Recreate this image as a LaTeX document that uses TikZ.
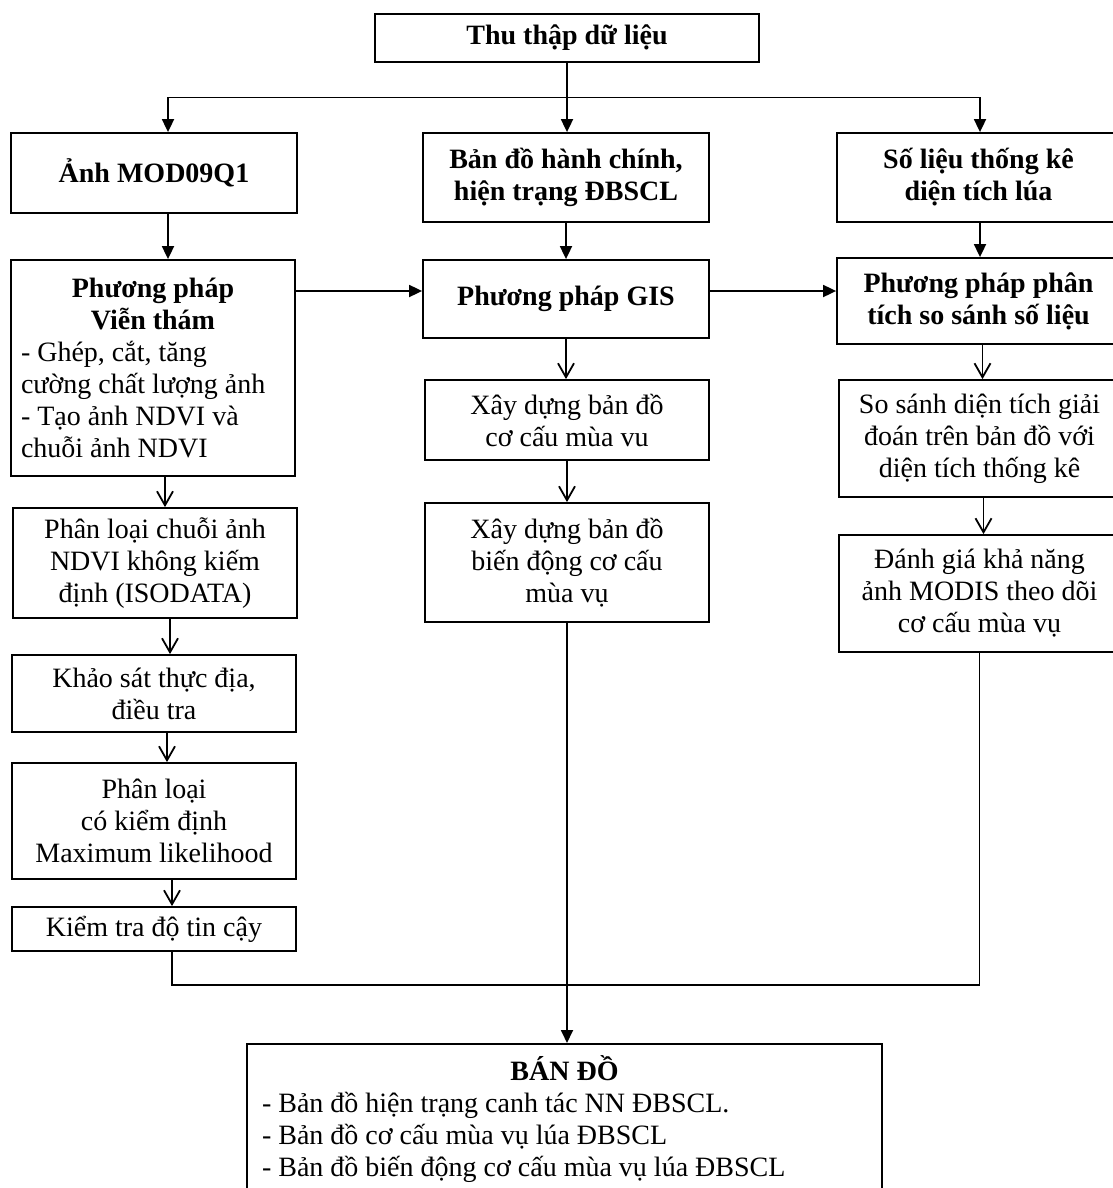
\documentclass[tikz,border=0pt]{standalone}
\usepackage{fontspec}
\setmainfont{Liberation Serif}
\usetikzlibrary{arrows.meta,calc}

\begin{document}
\begin{tikzpicture}[x=1pt,y=-1pt,
  box/.style={draw, line width=1.8pt, align=center, inner sep=0pt,
    font=\fontsize{28}{32}\selectfont},
  hd/.style={box, font=\fontsize{28}{32}\selectfont\bfseries},
  fillarr/.style={line width=1.8pt, -{Triangle[length=13pt,width=12pt]}},
  openarr/.style={line width=1.8pt, -{Straight Barb[length=14pt,width=16pt,line width=1.8pt]}},
  plain/.style={line width=1.8pt}]

\useasboundingbox (0,0) rectangle (1113,1188);
\fill[white] (0,0) rectangle (1113,1188);

% top level
\node[hd, minimum width=384, minimum height=48] (thu) at (567,38) {Thu thập dữ liệu};

% data sources
\node[hd, minimum width=286, minimum height=80] (anh) at (154,173) {Ảnh MOD09Q1};
\node[hd, minimum width=286, minimum height=89] (ban) at (566,177.5) {Bản đồ hành chính,\\hiện trạng ĐBSCL};
\node[hd, minimum width=283, minimum height=89] (sol) at (978.5,177.5) {Số liệu thống kê\\diện tích lúa};

% methods
\node[box, minimum width=284, minimum height=216] (vt) at (153,368)
  {\parbox{264pt}{\centering\bfseries Phương pháp\\Viễn thám\par
   \raggedright\mdseries - Ghép, cắt, tăng\\cường chất lượng ảnh\\- Tạo ảnh NDVI và\\chuỗi ảnh NDVI\par}};
\node[hd, minimum width=286, minimum height=78] (gis) at (566,299) {Phương pháp GIS};
\node[hd, minimum width=283, minimum height=86] (ppt) at (978.5,301) {Phương pháp phân\\tích so sánh số liệu};

% remote sensing branch
\node[box, minimum width=284, minimum height=110] (pl1) at (155,563) {Phân loại chuỗi ảnh\\NDVI không kiếm\\định (ISODATA)};
\node[box, minimum width=284, minimum height=77] (ks) at (154,693.5) {Khảo sát thực địa,\\điều tra};
\node[box, minimum width=284, minimum height=116] (pl2) at (154,821) {Phân loại\\có kiểm định\\Maximum likelihood};
\node[box, minimum width=284, minimum height=44] (kt) at (154,929) {Kiểm tra độ tin cậy};

% GIS branch
\node[box, minimum width=284, minimum height=80] (xd1) at (567,420) {Xây dựng bản đồ\\cơ cấu mùa vu};
\node[box, minimum width=284, minimum height=119] (xd2) at (567,562.5) {Xây dựng bản đồ\\biến động cơ cấu\\mùa vụ};

% statistics branch
\node[box, minimum width=281, minimum height=117] (ss) at (979.5,438.5) {So sánh diện tích giải\\đoán trên bản đồ với\\diện tích thống kê};
\node[box, minimum width=281, minimum height=117] (dg) at (979.5,593.5) {Đánh giá khả năng\\ảnh MODIS theo dõi\\cơ cấu mùa vụ};

% result
\node[box, minimum width=635, minimum height=150, anchor=north] (bd) at (564.5,1043)
  {\parbox{605pt}{\centering\bfseries BÁN ĐỒ\par
   \raggedright\mdseries - Bản đồ hiện trạng canh tác NN ĐBSCL.\\- Bản đồ cơ cấu mùa vụ lúa ĐBSCL\\- Bản đồ biến động cơ cấu mùa vụ lúa ĐBSCL\par}};

% distribution from the top box
\draw[fillarr] (thu.south) -- (thu.south |- ban.north);
\coordinate (sp) at ($(thu.south)!0.5!(thu.south |- ban.north)$);
\draw[fillarr] (sp) -| ([xshift=14pt]anh.north);
\draw[fillarr] (sp) -| ([xshift=1.5pt]sol.north);

% sources to methods
\draw[fillarr] ([xshift=14pt]anh.south) -- ([xshift=14pt]anh.south |- vt.north);
\draw[fillarr] (ban.south) -- (gis.north);
\draw[fillarr] ([xshift=1.5pt]sol.south) -- ([xshift=1.5pt]sol.south |- ppt.north);

% links between methods
\coordinate (gw) at ([yshift=8pt]gis.west);
\draw[fillarr] (vt.east |- gw) -- (gw);
\draw[fillarr] (gis.east |- gw) -- (ppt.west |- gw);

% remote sensing chain
\draw[openarr] ([xshift=12pt]vt.south) -- ([xshift=12pt]vt.south |- pl1.north);
\draw[openarr] ([xshift=15pt]pl1.south) -- ([xshift=15pt]pl1.south |- ks.north);
\draw[openarr] ([xshift=13pt]ks.south) -- ([xshift=13pt]ks.south |- pl2.north);
\draw[openarr] ([xshift=18pt]pl2.south) -- ([xshift=18pt]pl2.south |- kt.north);

% GIS chain
\draw[openarr] (gis.south) -- (gis.south |- xd1.north);
\draw[openarr] (xd1.south) -- (xd2.north);

% statistics chain
\draw[openarr] ([xshift=4pt]ppt.south) -- ([xshift=4pt]ppt.south |- ss.north);
\draw[openarr] ([xshift=4pt]ss.south) -- ([xshift=4pt]ss.south |- dg.north);

% merging into the result
\coordinate (jy) at (0,985);
\draw[plain] ([xshift=18pt]kt.south) |- (dg.south |- jy) -- (dg.south);
\draw[fillarr] (xd2.south) -- (xd2.south |- bd.north);

\end{tikzpicture}
\end{document}
